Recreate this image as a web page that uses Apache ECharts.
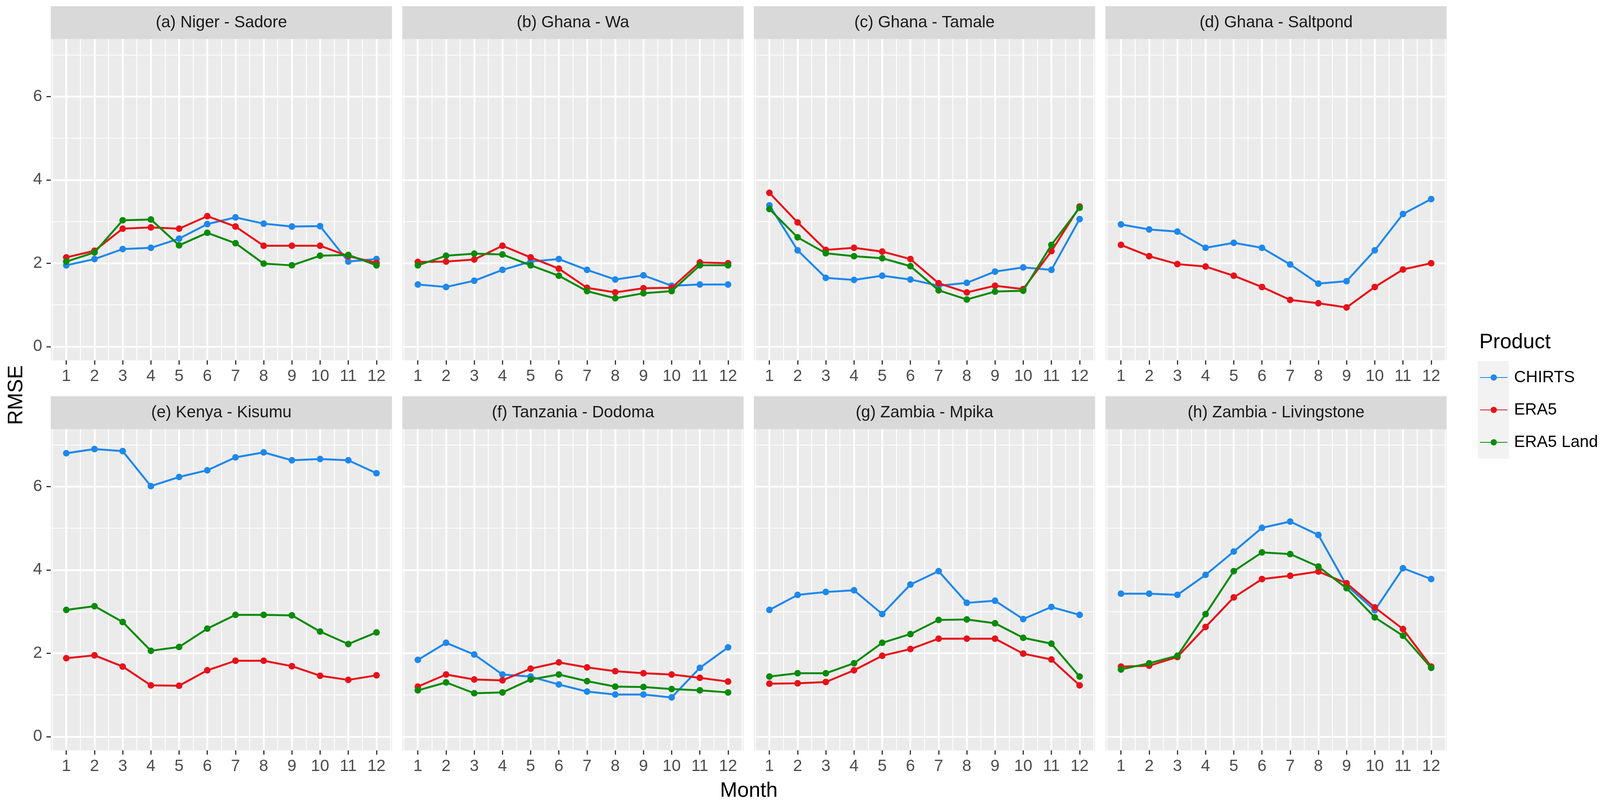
<!DOCTYPE html>
<html>
<head>
<meta charset="utf-8">
<script src="https://cdn.jsdelivr.net/npm/echarts@6/dist/echarts.min.js"></script>
<style>
html,body{margin:0;padding:0;background:#fff;overflow:hidden;}
#chart{width:4126px;height:2062px;}
</style>
</head>
<body>
<div id="chart"></div>
<script>
// ---- data ----
const months = [1,2,3,4,5,6,7,8,9,10,11,12];
const yTicks = [0,2,4,6];
const yMinor = [1,3,5,7];
const xMinor = [0.5,1.5,2.5,3.5,4.5,5.5,6.5,7.5,8.5,9.5,10.5,11.5,12.5];
const products = ['CHIRTS','ERA5','ERA5 Land'];
const panelTitles = ['(a) Niger - Sadore','(b) Ghana - Wa','(c) Ghana - Tamale','(d) Ghana - Saltpond',
                     '(e) Kenya - Kisumu','(f) Tanzania - Dodoma','(g) Zambia - Mpika','(h) Zambia - Livingstone'];

const sadoreCHIRTS = [1.95,2.10,2.34,2.37,2.59,2.94,3.10,2.95,2.88,2.89,2.04,2.10];
const sadoreERA5   = [2.14,2.30,2.83,2.86,2.83,3.13,2.88,2.42,2.42,2.42,2.17,2.01];
const sadoreLand   = [2.04,2.26,3.03,3.05,2.43,2.73,2.48,1.99,1.95,2.18,2.20,1.95];

const waCHIRTS = [1.49,1.43,1.58,1.84,2.04,2.10,1.84,1.61,1.71,1.46,1.49,1.49];
const waERA5   = [2.03,2.04,2.09,2.42,2.14,1.87,1.41,1.30,1.40,1.41,2.02,2.00];
const waLand   = [1.95,2.18,2.23,2.21,1.95,1.70,1.33,1.16,1.28,1.33,1.95,1.95];

const tamaleCHIRTS = [3.39,2.31,1.65,1.60,1.70,1.61,1.46,1.53,1.80,1.90,1.84,3.06];
const tamaleERA5   = [3.69,2.98,2.32,2.37,2.28,2.10,1.52,1.30,1.46,1.38,2.29,3.36];
const tamaleLand   = [3.30,2.62,2.24,2.17,2.12,1.93,1.35,1.13,1.32,1.34,2.44,3.33];

const saltpondCHIRTS = [2.93,2.81,2.76,2.37,2.49,2.37,1.97,1.51,1.57,2.31,3.18,3.54];
const saltpondERA5   = [2.44,2.17,1.98,1.92,1.70,1.43,1.12,1.04,0.94,1.43,1.85,2.00];
const saltpondLand   = null;

const kisumuCHIRTS = [6.80,6.90,6.85,6.01,6.23,6.39,6.70,6.82,6.63,6.66,6.63,6.32];
const kisumuERA5   = [1.88,1.95,1.68,1.23,1.22,1.59,1.82,1.82,1.69,1.46,1.36,1.47];
const kisumuLand   = [3.04,3.13,2.75,2.06,2.15,2.59,2.92,2.92,2.91,2.52,2.22,2.50];

const dodomaCHIRTS = [1.84,2.25,1.97,1.49,1.44,1.25,1.08,1.01,1.01,0.94,1.65,2.14];
const dodomaERA5   = [1.20,1.49,1.37,1.35,1.63,1.78,1.66,1.57,1.52,1.49,1.41,1.32];
const dodomaLand   = [1.11,1.30,1.04,1.06,1.37,1.49,1.33,1.20,1.19,1.14,1.11,1.06];

const mpikaCHIRTS = [3.04,3.40,3.47,3.51,2.94,3.65,3.97,3.21,3.26,2.82,3.11,2.92];
const mpikaERA5   = [1.27,1.28,1.31,1.59,1.94,2.10,2.35,2.35,2.35,1.99,1.85,1.23];
const mpikaLand   = [1.44,1.52,1.52,1.76,2.25,2.46,2.80,2.81,2.72,2.37,2.23,1.44];

const livingstoneCHIRTS = [3.43,3.43,3.40,3.88,4.44,5.01,5.16,4.84,3.63,3.03,4.04,3.78];
const livingstoneERA5   = [1.68,1.70,1.91,2.63,3.34,3.78,3.86,3.96,3.68,3.10,2.58,1.68];
const livingstoneLand   = [1.61,1.76,1.94,2.94,3.97,4.42,4.38,4.08,3.56,2.86,2.42,1.65];

const panelData = [
  [sadoreCHIRTS, sadoreERA5, sadoreLand],
  [waCHIRTS, waERA5, waLand],
  [tamaleCHIRTS, tamaleERA5, tamaleLand],
  [saltpondCHIRTS, saltpondERA5, saltpondLand],
  [kisumuCHIRTS, kisumuERA5, kisumuLand],
  [dodomaCHIRTS, dodomaERA5, dodomaLand],
  [mpikaCHIRTS, mpikaERA5, mpikaLand],
  [livingstoneCHIRTS, livingstoneERA5, livingstoneLand]
];

// ---- styling / layout ----
const colors = ['#1E88EC','#E8121A','#0A8B0A'];
const FONT = '"Liberation Sans", Arial, Helvetica, sans-serif';
const colLeft = [130, 1030, 1930, 2830];
const panelW = 873.5;
const rowTop = [100, 1099];
const panelH = 823;
const stripH = 84;
const xMin = 0.45, xMax = 12.55;
const yMin = -0.33, yMax = 7.38;
const SMALL = 42, BIG = 53;

const grids = [], xAxes = [], yAxes = [], series = [], graphics = [];

for (let i = 0; i < 8; i++) {
  const r = Math.floor(i / 4), c = i % 4;
  const left = colLeft[c], top = rowTop[r];
  grids.push({left: left, top: top, width: panelW, height: panelH, show: true,
              backgroundColor: '#EBEBEB', borderWidth: 0, containLabel: false});
  const isLeft = c === 0;
  xAxes.push({gridIndex: i, type: 'value', min: xMin, max: xMax, position: 'bottom',
    axisLine: {show: false, onZero: false},
    axisTick: {show: true, length: 11, lineStyle: {color: '#333333', width: 3}, customValues: months},
    axisLabel: {show: true, customValues: months, margin: 20, fontSize: SMALL, color: '#4D4D4D', fontFamily: FONT},
    splitLine: {show: true, lineStyle: {color: '#FFFFFF', width: 4.5}}});
  yAxes.push({gridIndex: i, type: 'value', min: yMin, max: yMax, position: 'left',
    axisLine: {show: false, onZero: false},
    axisTick: {show: isLeft, length: 11, lineStyle: {color: '#333333', width: 3}, customValues: yTicks},
    axisLabel: {show: isLeft, customValues: yTicks, margin: 22, fontSize: SMALL, color: '#4D4D4D', fontFamily: FONT},
    splitLine: {show: true, lineStyle: {color: '#FFFFFF', width: 4.5}}});

  graphics.push({type: 'rect', silent: true, z: 0,
    shape: {x: left, y: top - stripH, width: panelW, height: stripH},
    style: {fill: '#D9D9D9'}});
  graphics.push({type: 'text', silent: true, z: 1,
    x: left + panelW / 2, y: top - stripH / 2,
    style: {text: panelTitles[i], fontSize: SMALL, fontFamily: FONT, fill: '#1A1A1A',
            align: 'center', verticalAlign: 'middle'}});
}
for (let i = 0; i < 8; i++) {
  xAxes.push({gridIndex: i, type: 'value', min: xMin, max: xMax, position: 'top',
    axisLine: {show: false, onZero: false},
    axisTick: {show: false, customValues: xMinor},
    axisLabel: {show: false, customValues: xMinor},
    splitLine: {show: true, lineStyle: {color: '#FFFFFF', width: 2.2}}});
  yAxes.push({gridIndex: i, type: 'value', min: yMin, max: yMax, position: 'right',
    axisLine: {show: false, onZero: false},
    axisTick: {show: false, customValues: yMinor},
    axisLabel: {show: false, customValues: yMinor},
    splitLine: {show: true, lineStyle: {color: '#FFFFFF', width: 2.2}}});
}

for (let i = 0; i < 8; i++) {
  for (let p = 0; p < 3; p++) {
    const vals = panelData[i][p];
    if (!vals) continue;
    series.push({
      type: 'line', name: products[p], xAxisIndex: i, yAxisIndex: i,
      data: months.map((m, k) => [m, vals[k]]),
      symbol: 'circle', symbolSize: 17, showSymbol: true,
      lineStyle: {width: 5, color: colors[p]},
      itemStyle: {color: colors[p]},
      emphasis: {disabled: true},
      z: 3 + p, animation: false
    });
  }
}

graphics.push({type: 'rect', silent: true, z: 0,
  shape: {x: 3783, y: 925, width: 80, height: 250}, style: {fill: '#F2F2F2'}});
graphics.push({type: 'text', silent: true, x: 3787, y: 877,
  style: {text: 'Product', fontSize: BIG, fontFamily: FONT, fill: '#000000', align: 'left', verticalAlign: 'middle'}});
graphics.push({type: 'text', silent: true, x: 42, y: 1012, rotation: Math.PI / 2,
  style: {text: 'RMSE', fontSize: BIG, fontFamily: FONT, fill: '#000000', align: 'center', verticalAlign: 'middle'}});
graphics.push({type: 'text', silent: true, x: 1917, y: 2026,
  style: {text: 'Month', fontSize: BIG, fontFamily: FONT, fill: '#000000', align: 'center', verticalAlign: 'middle'}});

const chart = echarts.init(document.getElementById('chart'), null, {renderer: 'canvas'});
chart.setOption({
  backgroundColor: '#FFFFFF',
  animation: false,
  grid: grids,
  xAxis: xAxes,
  yAxis: yAxes,
  series: series,
  legend: {
    data: products, orient: 'vertical', left: 3788, top: 946, padding: 0,
    itemWidth: 70, itemHeight: 20, itemGap: 41,
    textStyle: {fontSize: SMALL, fontFamily: FONT, color: '#000000', lineHeight: 42, padding: [0, 0, 0, 12]},
    selectedMode: true
  },
  graphic: graphics
});
</script>
</body>
</html>
